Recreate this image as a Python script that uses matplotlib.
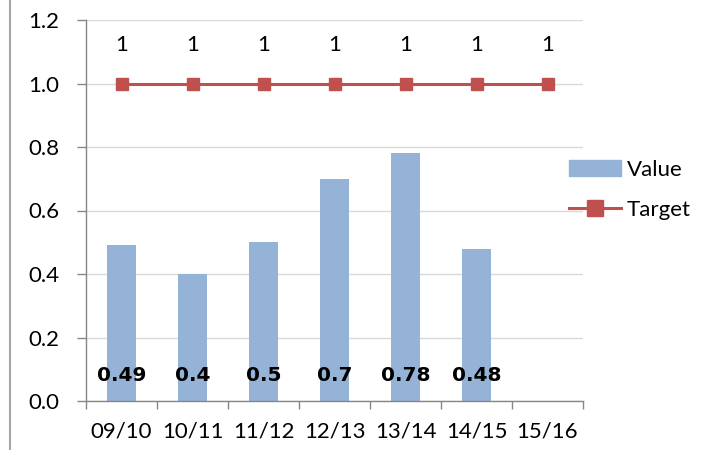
import matplotlib
matplotlib.use('Agg')
import matplotlib.pyplot as plt
from matplotlib.lines import Line2D
import numpy as np

# Datos de la serie
seasons = ['09/10', '10/11', '11/12', '12/13', '13/14', '14/15', '15/16']
values = [0.49, 0.4, 0.5, 0.7, 0.78, 0.48, None]
targets = [1, 1, 1, 1, 1, 1, 1]
yticks = [0.0, 0.2, 0.4, 0.6, 0.8, 1.0, 1.2]

bar_color = '#95B3D7'
line_color = '#C0504D'
axis_gray = '#868686'

plt.rcParams['font.family'] = ['Lato', 'DejaVu Sans']

fig = plt.figure(figsize=(7.02, 4.5), dpi=100)
ax = fig.add_axes([86 / 702, 1 - 401 / 450, (583 - 86) / 702, (401 - 20) / 450])

x = np.arange(len(seasons))
bar_x = [i for i, v in zip(x, values) if v is not None]
bar_v = [v for v in values if v is not None]
ax.bar(bar_x, bar_v, width=0.4, color=bar_color, zorder=2, label='Value')
ax.plot(x, targets, color=line_color, lw=2.2, marker='s', markersize=9,
        zorder=3, label='Target')

# Etiquetas de valores (en negrita sobre la base de la barra)
for xi, v in zip(bar_x, bar_v):
    ax.text(xi, 0.08, f'{v:g}', ha='center', va='center', fontsize=14.5,
            family='DejaVu Sans', fontweight='bold', color='black', zorder=4)
for xi, t in zip(x, targets):
    ax.text(xi, 1.12, f'{t:g}', ha='center', va='center', fontsize=16,
            color='black', zorder=4)

ax.set_xlim(-0.5, len(seasons) - 0.5)
ax.set_ylim(0, 1.2)
ax.set_yticks(yticks)
ax.set_yticklabels([f'{t:.1f}' for t in yticks])
ax.set_xticks(x)
ax.set_xticklabels(seasons)
ax.set_xticks(np.arange(-0.5, len(seasons), 1), minor=True)
ax.tick_params(axis='x', which='major', length=0, pad=15, labelsize=16)
ax.tick_params(axis='x', which='minor', length=6, color=axis_gray, width=1)
ax.tick_params(axis='y', length=6.3, color=axis_gray, width=1, pad=13, labelsize=16)

ax.yaxis.grid(True, color='#D9D9D9', lw=1, zorder=0)
ax.set_axisbelow(True)
for side in ['top', 'right']:
    ax.spines[side].set_visible(False)
for side in ['left', 'bottom']:
    ax.spines[side].set_color(axis_gray)
    ax.spines[side].set_linewidth(1)

handles = [plt.Rectangle((0, 0), 1, 1, color=bar_color),
           Line2D([0], [0], color=line_color, lw=2.2, marker='s', markersize=11)]
fig.legend(handles, ['Value', 'Target'], loc='center left',
           bbox_to_anchor=(549 / 702, 1 - 190 / 450), frameon=False,
           fontsize=16, handlelength=2.35, handletextpad=0.25, labelspacing=0.9)

# Borde izquierdo del marco
fig.add_artist(Line2D([10 / 702, 10 / 702], [0, 1], color='#A6A6A6', lw=1.5))

fig.savefig('out.png', dpi=100)
